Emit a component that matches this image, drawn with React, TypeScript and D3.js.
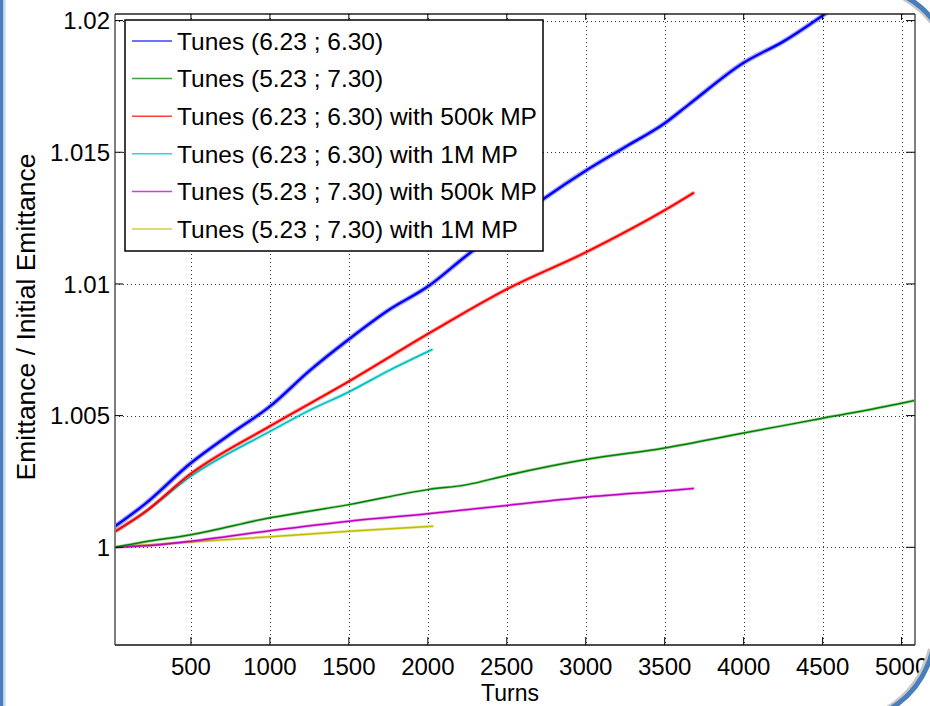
import React from 'react';
import * as d3 from 'd3';

// turns / emittance ratio
const blueTurns = [20, 200, 500, 750, 1000, 1250, 1500, 1750, 2000, 2250, 2500, 2750, 3000, 3250, 3500, 3650, 4000, 4250, 4550];
const blueVals = [1.0008, 1.0016, 1.0032, 1.0043, 1.00535, 1.0067, 1.0079, 1.009, 1.0099, 1.0111, 1.0122, 1.0133, 1.0143, 1.0152, 1.0161, 1.0168, 1.0184, 1.0192, 1.0204];

const greenTurns = [20, 200, 500, 1000, 1500, 2000, 2250, 2500, 3000, 3500, 4000, 4500, 5000, 5085];
const greenVals = [1.0, 1.0002, 1.00048, 1.00112, 1.00162, 1.00219, 1.00238, 1.00273, 1.00333, 1.00377, 1.00434, 1.0049, 1.00547, 1.00558];

const redTurns = [20, 200, 500, 1000, 1500, 2000, 2200, 2500, 3000, 3500, 3680];
const redVals = [1.0006, 1.0013, 1.0028, 1.0046, 1.0063, 1.0081, 1.0088, 1.0098, 1.0112, 1.0128, 1.01345];

const cyanTurns = [20, 200, 500, 1000, 1250, 1500, 1750, 2025];
const cyanVals = [1.0006, 1.0013, 1.0027, 1.0044, 1.0052, 1.0059, 1.0067, 1.0075];

const magentaTurns = [20, 300, 500, 1000, 1500, 2000, 2500, 3000, 3500, 3680];
const magentaVals = [1.0, 1.0001, 1.00023, 1.00063, 1.00099, 1.00127, 1.00159, 1.0019, 1.00214, 1.00223];

const yellowTurns = [20, 500, 1000, 1500, 2030];
const yellowVals = [1.0, 1.0002, 1.0004, 1.00061, 1.0008];

const legendLabels = [
  'Tunes (6.23 ; 6.30)',
  'Tunes (5.23 ; 7.30)',
  'Tunes (6.23 ; 6.30) with 500k MP',
  'Tunes (6.23 ; 6.30) with 1M MP',
  'Tunes (5.23 ; 7.30) with 500k MP',
  'Tunes (5.23 ; 7.30) with 1M MP',
];
const xTicks = [500, 1000, 1500, 2000, 2500, 3000, 3500, 4000, 4500, 5000];
const yTicks = [1, 1.005, 1.01, 1.015, 1.02];
const yTickLabels = ['1', '1.005', '1.01', '1.015', '1.02'];

const series = [
  { turns: blueTurns, vals: blueVals, color: '#0000ff', w: 2.4, halo: 5 },
  { turns: greenTurns, vals: greenVals, color: '#008000', w: 1.5, halo: 3 },
  { turns: redTurns, vals: redVals, color: '#ff0000', w: 2, halo: 4 },
  { turns: cyanTurns, vals: cyanVals, color: '#00bfbf', w: 1.6, halo: 3.5 },
  { turns: magentaTurns, vals: magentaVals, color: '#bf00bf', w: 1.5, halo: 3 },
  { turns: yellowTurns, vals: yellowVals, color: '#bfbf00', w: 1.5, halo: 3 },
];
// later ones sit on top
const drawOrder = [5, 4, 3, 2, 1, 0];

const W = 930;
const H = 706;
const left = 115, right = 915, top = 14, bottom = 645;
const font = '"Liberation Sans", Arial, Helvetica, sans-serif';

const App: React.FC = () => {
  const x = d3.scaleLinear().domain([19, 5085]).range([left, right]);
  const y = d3.scaleLinear().domain([0.99629, 1.02025]).range([bottom, top]);
  const line = d3.line<[number, number]>()
    .x(d => x(d[0]))
    .y(d => y(d[1]))
    .curve(d3.curveMonotoneX);

  const legX = 125, legY = 20, legW = 418, legH = 231, rowH = 37.6;

  return (
    <svg width={W} height={H} style={{ position: 'absolute', left: 0, top: 0, background: '#fff' }}>
      <defs>
        <clipPath id="plot">
          <rect x={left} y={top} width={right - left} height={bottom - top} />
        </clipPath>
      </defs>
      <rect x={0} y={0} width={W} height={H} fill="#fff" />

      {/* grid */}
      <g stroke="#333" strokeWidth={1} strokeDasharray="1,3">
        {xTicks.map(t => (
          <line key={'gx' + t} x1={Math.round(x(t)) + 0.5} x2={Math.round(x(t)) + 0.5} y1={top} y2={bottom} />
        ))}
        {yTicks.map(t => (
          <line key={'gy' + t} x1={left} x2={right} y1={Math.round(y(t)) + 0.5} y2={Math.round(y(t)) + 0.5} />
        ))}
      </g>

      {/* data */}
      <g clipPath="url(#plot)" fill="none" strokeLinejoin="round" strokeLinecap="round">
        {drawOrder.map(i => {
          const s = series[i];
          const pts = s.turns.map((t, k) => [t, s.vals[k]] as [number, number]);
          const d = line(pts) || '';
          return (
            <g key={'s' + i}>
              <path d={d} stroke={s.color} strokeOpacity={0.35} strokeWidth={s.halo} />
              <path d={d} stroke={s.color} strokeWidth={s.w} />
            </g>
          );
        })}
      </g>

      {/* frame */}
      <line x1={left} x2={left} y1={top} y2={bottom} stroke="#7f7f7f" strokeWidth={2} />
      <line x1={right} x2={right} y1={top} y2={bottom} stroke="#7f7f7f" strokeWidth={2} />
      <line x1={left} x2={right} y1={top} y2={top} stroke="#222" strokeWidth={1.5} />
      <line x1={left} x2={right} y1={bottom} y2={bottom} stroke="#111" strokeWidth={1.5} />

      {/* ticks */}
      <g stroke="#000" strokeWidth={1}>
        {xTicks.map(t => (
          <g key={'tx' + t}>
            <line x1={x(t)} x2={x(t)} y1={bottom} y2={bottom - 8} />
            <line x1={x(t)} x2={x(t)} y1={top} y2={top + 6} />
          </g>
        ))}
        {yTicks.map(t => (
          <g key={'ty' + t}>
            <line x1={left} x2={left + 8} y1={y(t)} y2={y(t)} />
            <line x1={right} x2={right - 9} y1={y(t)} y2={y(t)} />
          </g>
        ))}
      </g>

      {/* tick labels */}
      <g fontFamily={font} fontSize={24} fill="#000">
        {xTicks.map(t => (
          <text key={'lx' + t} x={x(t)} y={675} textAnchor="middle">{t}</text>
        ))}
        {yTicks.map((t, i) => (
          <text key={'ly' + t} x={110} y={y(t) + 8.6} textAnchor="end">{yTickLabels[i]}</text>
        ))}
      </g>

      {/* axis labels */}
      <text x={510} y={700.5} fontFamily={font} fontSize={23} textAnchor="middle">Turns</text>
      <text transform="translate(35,317) rotate(-90)" fontFamily={font} fontSize={26.5} textAnchor="middle">
        Emittance / Initial Emittance
      </text>

      {/* legend */}
      <rect x={legX} y={legY} width={legW} height={legH} fill="#fff" stroke="#000" strokeWidth={1.5} />
      {legendLabels.map((lab, i) => {
        const cy = legY + 21 + i * rowH;
        return (
          <g key={'leg' + i}>
            <line x1={132} x2={172} y1={cy} y2={cy} stroke={series[i].color} strokeWidth={1.5} strokeOpacity={0.75} />
            <text x={177} y={cy + 8.8} fontFamily={font} fontSize={24.5}>{lab}</text>
          </g>
        );
      })}

      {/* slide frame decoration */}
      <rect x={0} y={0} width={3.5} height={H} fill="#4a7ebb" />
      <rect x={3.5} y={0} width={2} height={H} fill="#c9d8ec" />
      <path d="M906,-3 Q921,5 933,20" fill="none" stroke="#c8c8c8" strokeWidth={4} transform="translate(-2,2)" />
      <path d="M906,-3 Q921,5 933,20" fill="none" stroke="#4a7ebb" strokeWidth={5} />
      <path d="M933,650 Q922,690 890,709" fill="none" stroke="#c8c8c8" strokeWidth={4} transform="translate(-3,-1)" />
      <path d="M933,650 Q922,690 890,709" fill="none" stroke="#4a7ebb" strokeWidth={5} />
    </svg>
  );
};

export default App;
